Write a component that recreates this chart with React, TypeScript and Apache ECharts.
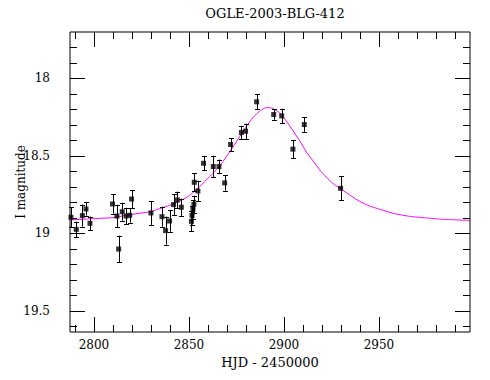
import React, { useEffect, useRef } from "react";
import * as echarts from "echarts";

// Observed photometry (HJD - 2450000, I magnitude, 1-sigma error)
const hjd = [2787.9, 2790.7, 2793.9, 2795.8, 2797.9, 2809.8, 2812.1, 2813.0, 2814.9, 2816.9, 2818.8, 2819.8, 2830.0, 2835.8, 2837.7, 2839.8, 2841.9, 2843.9, 2846.0, 2851.3, 2851.6, 2852.1, 2852.6, 2852.8, 2854.7, 2857.7, 2862.8, 2865.8, 2868.8, 2871.9, 2877.6, 2879.8, 2885.6, 2894.6, 2898.8, 2904.7, 2910.7, 2929.8];
const mag = [18.897, 18.975, 18.886, 18.843, 18.936, 18.811, 18.889, 19.102, 18.861, 18.889, 18.884, 18.779, 18.869, 18.893, 18.983, 18.921, 18.815, 18.785, 18.832, 18.923, 18.884, 18.845, 18.813, 18.671, 18.727, 18.548, 18.569, 18.569, 18.675, 18.427, 18.349, 18.341, 18.151, 18.233, 18.242, 18.457, 18.298, 18.710];
const magErr = [0.065, 0.049, 0.071, 0.043, 0.044, 0.062, 0.073, 0.086, 0.058, 0.053, 0.047, 0.059, 0.077, 0.064, 0.091, 0.069, 0.066, 0.054, 0.056, 0.065, 0.06, 0.06, 0.055, 0.059, 0.066, 0.044, 0.069, 0.045, 0.05, 0.041, 0.043, 0.049, 0.049, 0.034, 0.046, 0.058, 0.046, 0.078];

// Model curve
const curveHjd = [2787.4, 2799.5, 2810.0, 2817.0, 2824.1, 2830.0, 2834.6, 2839.8, 2845.1, 2848.6, 2852.1, 2855.6, 2859.1, 2862.6, 2866.2, 2869.7, 2873.2, 2876.7, 2880.2, 2883.7, 2887.2, 2889.7, 2891.6, 2894.2, 2897.7, 2901.2, 2904.8, 2908.3, 2911.8, 2915.3, 2918.8, 2922.3, 2925.8, 2929.8, 2934.6, 2939.8, 2945.1, 2950.4, 2957.4, 2966.2, 2974.9, 2983.7, 2997.9];
const curveMag = [18.914, 18.906, 18.899, 18.884, 18.871, 18.860, 18.841, 18.820, 18.792, 18.770, 18.738, 18.699, 18.656, 18.613, 18.565, 18.505, 18.442, 18.375, 18.311, 18.252, 18.212, 18.192, 18.188, 18.194, 18.222, 18.274, 18.339, 18.403, 18.475, 18.533, 18.591, 18.638, 18.679, 18.712, 18.753, 18.794, 18.824, 18.845, 18.871, 18.891, 18.901, 18.910, 18.917];

// Axis ticks and labels
const xMajorTicks = [2800, 2850, 2900, 2950];
const xMinorTicks = [2790, 2800, 2810, 2820, 2830, 2840, 2850, 2860, 2870, 2880, 2890, 2900, 2910, 2920, 2930, 2940, 2950, 2960, 2970, 2980, 2990];
const yMajorTicks = [18, 18.5, 19, 19.5];
const yMinorTicks = [17.8, 17.9, 18.0, 18.1, 18.2, 18.3, 18.4, 18.5, 18.6, 18.7, 18.8, 18.9, 19.0, 19.1, 19.2, 19.3, 19.4, 19.5, 19.6];

const X_MIN = 2787.4;
const X_MAX = 2997.9;
const Y_MIN = 17.7;
const Y_MAX = 19.638;

const FONT = "DejaVu Serif";

export default function App() {
  const ref = useRef<HTMLDivElement>(null);

  useEffect(() => {
    document.body.style.margin = "0";
    if (!ref.current) return;
    const chart = echarts.init(ref.current, undefined, { renderer: "svg" });

    const errData = hjd.map((h, i) => [h, mag[i], magErr[i]]);
    const black = () => ({ stroke: "#000", lineWidth: 1 });
    const crisp = (v: number) => Math.round(v) + 0.5;

    chart.setOption({
      animation: false,
      title: {
        text: "OGLE-2003-BLG-412",
        left: 270,
        top: 2,
        textAlign: "center",
        textStyle: { color: "#000", fontFamily: FONT, fontSize: 13, fontWeight: "normal" },
      },
      grid: {
        left: 70,
        top: 32,
        width: 400,
        height: 300,
        show: true,
        borderColor: "#000",
        borderWidth: 1,
        outerBoundsMode: "none",
      },
      xAxis: {
        type: "value",
        min: X_MIN,
        max: X_MAX,
        axisLine: { show: false },
        axisTick: { show: false },
        splitLine: { show: false },
        axisLabel: {
          show: true,
          customValues: xMajorTicks,
          margin: 7,
          color: "#000",
          fontFamily: FONT,
          fontSize: 12,
          formatter: (v: number) => String(Math.round(v)),
        },
        name: "HJD - 2450000",
        nameLocation: "middle",
        nameGap: 24,
        nameTextStyle: { color: "#000", fontFamily: FONT, fontSize: 13 },
      },
      yAxis: {
        type: "value",
        inverse: true,
        min: Y_MIN,
        max: Y_MAX,
        axisLine: { show: false },
        axisTick: { show: false },
        splitLine: { show: false },
        axisLabel: {
          show: true,
          customValues: yMajorTicks,
          margin: 20,
          color: "#000",
          fontFamily: FONT,
          fontSize: 12,
          formatter: (v: number) => String(v),
        },
        name: "I magnitude",
        nameLocation: "middle",
        nameGap: 43,
        nameMoveOverlap: false,
        nameTextStyle: { color: "#000", fontFamily: FONT, fontSize: 12 },
      },
      series: [
        {
          type: "line",
          data: curveHjd.map((h, i) => [h, curveMag[i]]),
          showSymbol: false,
          symbol: "none",
          smooth: 0.2,
          lineStyle: { color: "#ff00ff", width: 1 },
          z: 2,
        },
        {
          type: "custom",
          data: errData,
          encode: { x: 0, y: 1 },
          z: 3,
          renderItem: (_params: any, api: any) => {
            const x = api.value(0);
            const y = api.value(1);
            const e = api.value(2);
            const top = api.coord([x, y - e]);
            const bot = api.coord([x, y + e]);
            const px = crisp(top[0]);
            const hw = 2.5;
            return {
              type: "group",
              children: [
                { type: "line", shape: { x1: px, y1: top[1], x2: px, y2: bot[1] }, style: black() },
                { type: "line", shape: { x1: px - hw, y1: crisp(top[1]), x2: px + hw, y2: crisp(top[1]) }, style: black() },
                { type: "line", shape: { x1: px - hw, y1: crisp(bot[1]), x2: px + hw, y2: crisp(bot[1]) }, style: black() },
              ],
            };
          },
        },
        {
          type: "scatter",
          data: hjd.map((h, i) => [h, mag[i]]),
          symbol: "rect",
          symbolSize: 5,
          itemStyle: { color: "#000" },
          z: 4,
        },
      ],
    });

    // Tick marks on all four sides as thin filled rects, positioned through the chart's own scales
    const toPx = (x: number, y: number) => chart.convertToPixel({ gridIndex: 0 }, [x, y]) as number[];
    const elements: any[] = [];
    const fill = { fill: "#000" };
    const addX = (v: number, len: number) => {
      const b = toPx(v, Y_MAX);
      const t = toPx(v, Y_MIN);
      const px = Math.round(b[0]);
      elements.push({ type: "rect", z: 100, silent: true, shape: { x: px, y: Math.round(b[1]) - len, width: 1, height: len }, style: fill });
      elements.push({ type: "rect", z: 100, silent: true, shape: { x: px, y: Math.round(t[1]), width: 1, height: len }, style: fill });
    };
    const addY = (v: number, len: number) => {
      const l = toPx(X_MIN, v);
      const r = toPx(X_MAX, v);
      const py = Math.round(l[1]);
      elements.push({ type: "rect", z: 100, silent: true, shape: { x: Math.round(l[0]), y: py, width: len, height: 1 }, style: fill });
      elements.push({ type: "rect", z: 100, silent: true, shape: { x: Math.round(r[0]) - len, y: py, width: len, height: 1 }, style: fill });
    };
    xMinorTicks.forEach((v) => addX(v, 7));
    xMajorTicks.forEach((v) => addX(v, 15));
    yMinorTicks.forEach((v) => addY(v, 7));
    yMajorTicks.forEach((v) => addY(v, 15));
    chart.setOption({ graphic: { elements } });

    return () => chart.dispose();
  }, []);

  return <div ref={ref} style={{ width: 490, height: 380 }} />;
}
